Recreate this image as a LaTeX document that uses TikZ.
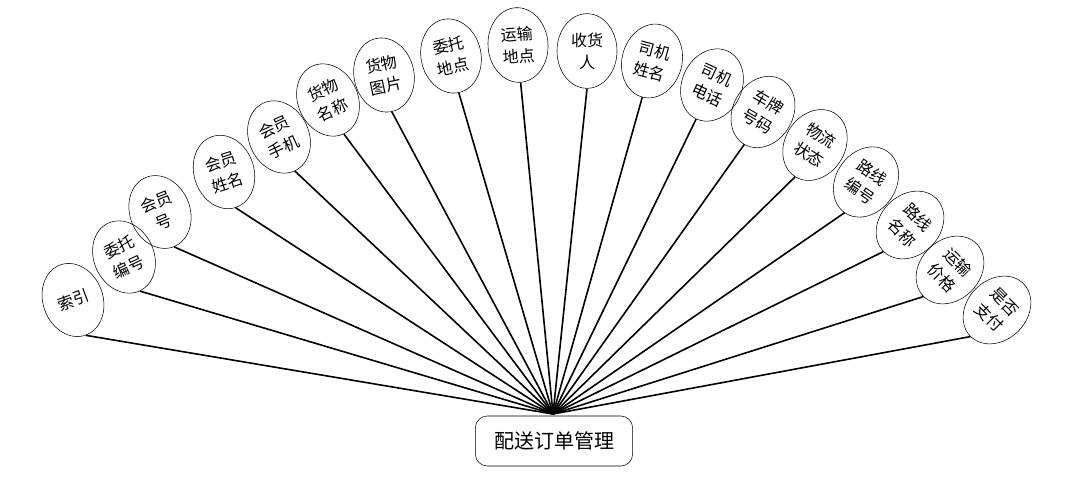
\documentclass[tikz,border=0pt]{standalone}
\usepackage{fontspec}
\setmainfont{Noto Sans CJK SC}
\usetikzlibrary{shapes.geometric}

\tikzset{
  attr/.style={draw,ellipse,thin,minimum width=45pt,minimum height=56pt,inner sep=0pt,
    align=center,font=\fontsize{12pt}{16.5pt}\selectfont},
  link/.style={line width=1.2pt}
}

\begin{document}
\begin{tikzpicture}[x=0.75pt,y=-0.75pt]
\useasboundingbox (0,0) rectangle (1075,477);
\node[draw,rounded corners=9pt,minimum width=118pt,minimum height=37.5pt,
  font=\fontsize{15pt}{18pt}\selectfont] (order) at (554,441) {配送订单管理};
\coordinate (hub) at (553,414);
\foreach \i/\x/\y/\ang/\txt in {
  1/73/300/20/索引, 2/124/257/25/{委托\\编号}, 3/160/212/22/{会员\\号},
  4/224/172/18/{会员\\姓名}, 5/279/137/25/{会员\\手机}, 6/328/100/25/{货物\\名称},
  7/384/75/12/{货物\\图片}, 8/451/56/12/{委托\\地点}, 9/518/45/4/{运输\\地点},
  10/587/51/0/{收货\\人}, 11/652/61/-15/{司机\\姓名}, 12/712/85/-25/{司机\\电话},
  13/763/112/-30/{车牌\\号码}, 14/815/145/-32/{物流\\状态}, 15/866/182/-35/{路线\\编号},
  16/910/225/-45/{路线\\名称}, 17/950/270/-45/{运输\\价格}, 18/997/310/-45/{是否\\支付}}{
  \node[attr,rotate=\ang] (e\i) at (\x,\y) {\txt};
  \draw[link] (e\i.south) -- (hub);
}
\end{tikzpicture}
\end{document}
